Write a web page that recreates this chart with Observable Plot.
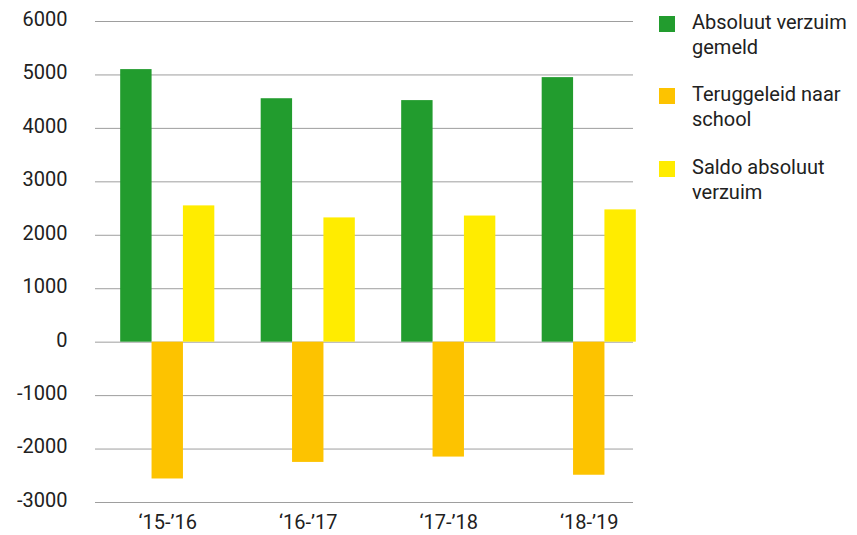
<!DOCTYPE html>
<html>
<head>
<meta charset="utf-8">
<script src="https://cdn.jsdelivr.net/npm/d3@7"></script>
<script src="https://cdn.jsdelivr.net/npm/@observablehq/plot@0.6"></script>
<style>
  html, body { margin: 0; padding: 0; background: #fff; }
  #wrap { position: relative; width: 857px; height: 535px; font-family: Roboto, "Noto Sans", sans-serif; }
  #legend { position: absolute; left: 659px; top: 0; color: #212121; font-size: 20px; line-height: 25px; }
  .item { position: absolute; left: 0; width: 200px; }
  .sw { position: absolute; left: 0; top: 2px; width: 16px; height: 16px; }
  .lbl { position: absolute; left: 33px; top: -4px; white-space: nowrap; }
</style>
</head>
<body>
<div id="wrap"><div id="legend"></div></div>
<script>
const categories = ["‘15-’16", "‘16-’17", "‘17-’18", "‘18-’19"];
const seriesNames = ["Absoluut verzuim gemeld", "Teruggeleid naar school", "Saldo absoluut verzuim"];
const legendLines = [["Absoluut verzuim", "gemeld"], ["Teruggeleid naar", "school"], ["Saldo absoluut", "verzuim"]];
const colors = ["#229c2e", "#fdc300", "#ffec00"];
const absoluutVerzuim = [5100, 4555, 4520, 4950];
const teruggeleid = [-2560, -2250, -2150, -2490];
const saldo = [2550, 2325, 2360, 2475];
const yTicks = [-3000, -2000, -1000, 0, 1000, 2000, 3000, 4000, 5000, 6000];

const rows = (vals) => categories.map((c, i) => ({cat: c, value: vals[i]}));
const band = 94.1;

const chart = Plot.plot({
  width: 857,
  height: 535,
  marginLeft: 95,
  marginRight: 224,
  marginTop: 21,
  marginBottom: 33,
  style: {fontFamily: "Roboto, sans-serif", fontSize: "20px", color: "#212121", background: "transparent"},
  x: {domain: categories, range: [97, 659], paddingInner: 0.33, paddingOuter: 0.165, round: false, label: null},
  y: {domain: [-3000, 6000], label: null},
  marks: [
    Plot.gridY(yTicks, {stroke: "#9e9e9e", strokeOpacity: 1, strokeWidth: 1}),
    Plot.barY(rows(absoluutVerzuim), {x: "cat", y: "value", fill: colors[0], insetRight: band * 2 / 3}),
    Plot.barY(rows(teruggeleid), {x: "cat", y: "value", fill: colors[1], insetLeft: band / 3, insetRight: band / 3}),
    Plot.barY(rows(saldo), {x: "cat", y: "value", fill: colors[2], insetLeft: band * 2 / 3}),
    Plot.axisY(yTicks, {tickSize: 0, tickPadding: 28, dy: -2, label: null, tickFormat: (d) => String(d)}),
    Plot.axisX({tickSize: 0, tickPadding: 12, label: null})
  ]
});
document.getElementById("wrap").prepend(chart);

const legend = document.getElementById("legend");
const tops = [14, 86, 159];
seriesNames.forEach((name, i) => {
  const it = document.createElement("div");
  it.className = "item";
  it.style.top = tops[i] + "px";
  const sw = document.createElement("div");
  sw.className = "sw";
  sw.style.background = colors[i];
  const lb = document.createElement("div");
  lb.className = "lbl";
  lb.innerHTML = legendLines[i].join("<br>");
  it.appendChild(sw);
  it.appendChild(lb);
  legend.appendChild(it);
});
</script>
</body>
</html>
